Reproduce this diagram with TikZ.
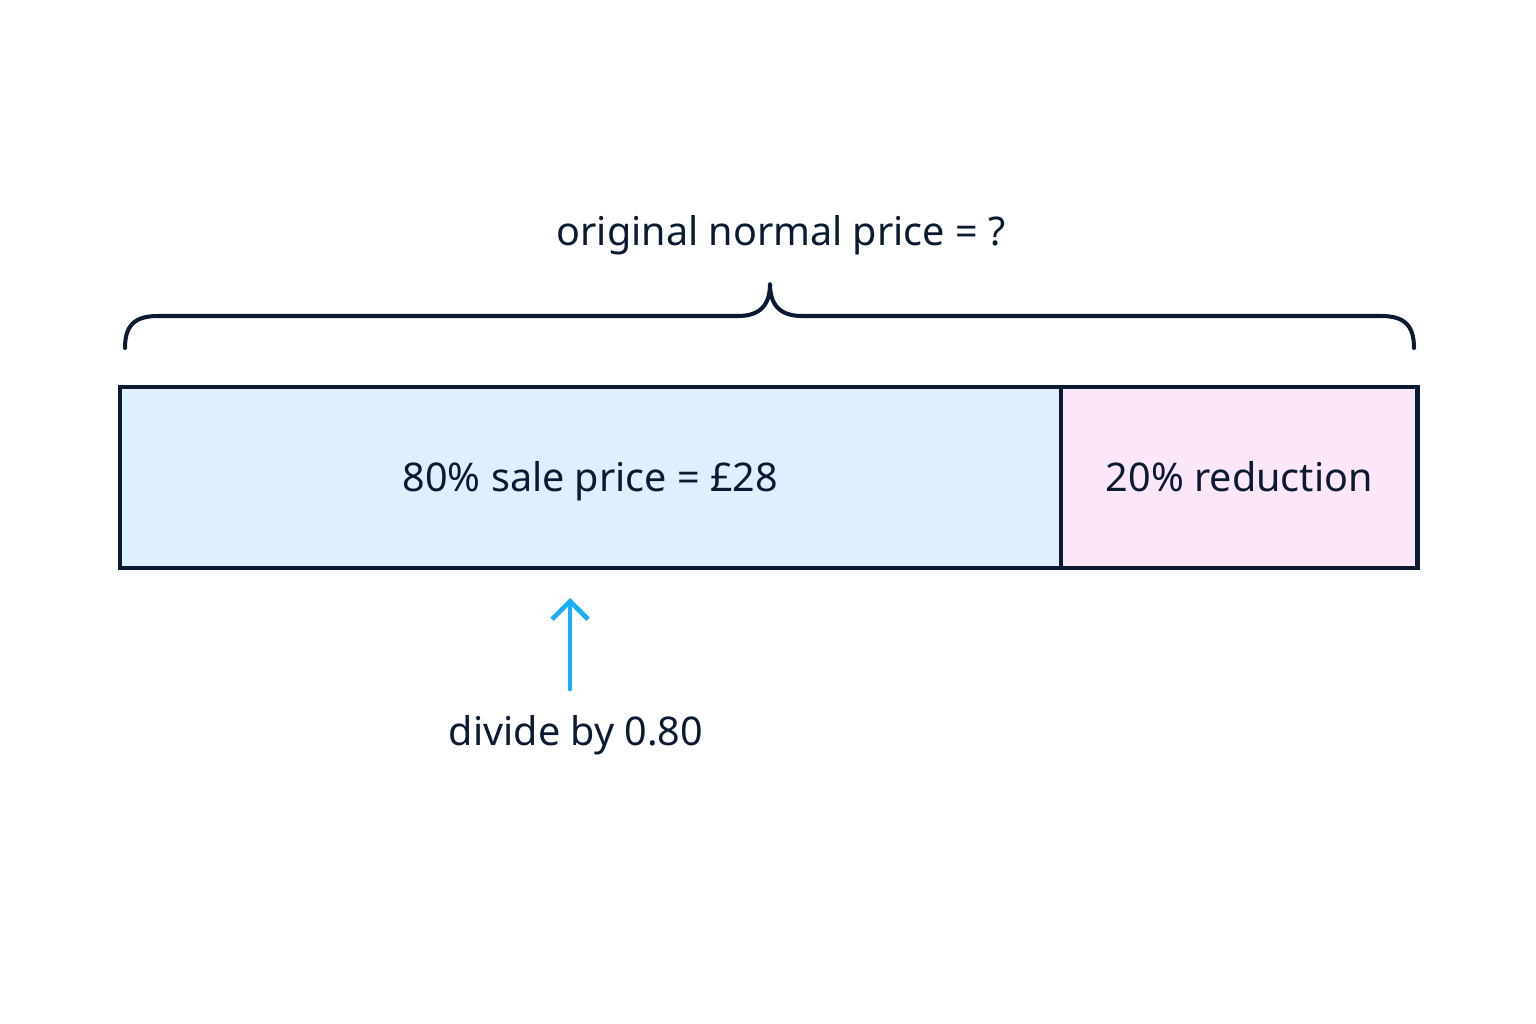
\documentclass[tikz,border=0pt]{standalone}
\usepackage{fontspec}
\setmainfont{Noto Sans}
\usetikzlibrary{arrows.meta}
\definecolor{ink}{HTML}{0B1A33}
\definecolor{salefill}{HTML}{E0EFFD}
\definecolor{cutfill}{HTML}{FCE7F8}
\definecolor{arrowblue}{HTML}{1AADF8}
\tikzset{
	bar/.style={draw=ink, line width=2.6pt, minimum height=3.62cm, anchor=north west, inner sep=0pt, outer sep=0pt, text height=16pt, text depth=0pt, font=\fontsize{22.5}{27}\selectfont, text=ink},
	lbl/.style={font=\fontsize{22.5}{27}\selectfont, text=ink, inner sep=0pt}
}

\begin{document}
\begin{tikzpicture}[x=0.02cm, y=-0.02cm, >={Straight Barb[length=0.36cm, width=0.72cm]}]
	\useasboundingbox [fill=white] (0,0) rectangle (1536,1024);
% BARRA
	\node [bar, fill=salefill, minimum width=18.82cm] (sale) at (120,387) {80\% sale price = £28};
	\node [bar, fill=cutfill, minimum width=7.14cm] (reduction) at (sale.north east) {20\% reduction};
% LLAVE
	\coordinate (braceL) at (125,348);
	\coordinate (braceTip) at (770,284);
	\coordinate (braceR) at (1414,348);
	\draw [ink, line width=2.3pt, line cap=round, line join=round] (braceL) .. controls (125,325) and (135,316) .. (158,316) -- (738,316) .. controls (760,316) and (770,305) .. (braceTip) .. controls (770,305) and (780,316) .. (802,316) -- (1381,316) .. controls (1404,316) and (1414,325) .. (braceR);
	\node [lbl] (original) at (781,235) {original normal price = ?};
% FLECHA
	\node [lbl] (divide) at (576,735) {divide by 0.80};
	\coordinate (arrowTail) at (570,689);
	\coordinate (arrowTip) at (570,598);
	\draw [arrowblue, line width=2.7pt, line cap=round, ->] (arrowTail) -- (arrowTip);
\end{tikzpicture}
\end{document}
